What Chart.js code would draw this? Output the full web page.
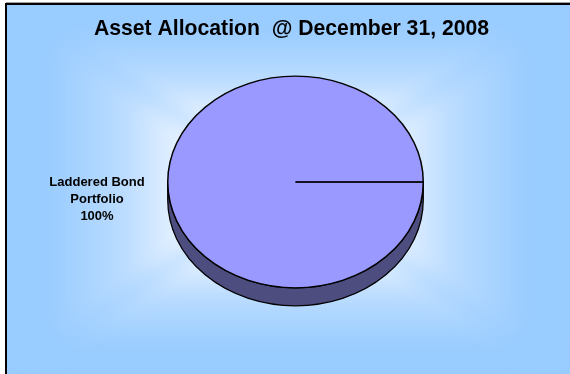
<!DOCTYPE html>
<html>
<head>
<meta charset="utf-8">
<title>Asset Allocation</title>
<script src="https://cdn.jsdelivr.net/npm/chart.js@4"></script>
<style>
  html, body { margin: 0; padding: 0; background: #fff; }
  #wrap { position: relative; width: 570px; height: 374px; }
</style>
</head>
<body>
<div id="wrap"><canvas id="myChart"></canvas></div>
<script>
let chartTitle = "Asset Allocation  @ December 31, 2008";
let categories = ["Laddered Bond Portfolio"];
let labelLines = ["Laddered Bond", "Portfolio", "100%"];
let allocation = [100];

const squash = 0.828;   // the disc is tilted, so it is drawn flattened
const depth = 18;       // thickness of the disc in px

// rectangular "from centre" fill behind everything, one triangle per side
let backdrop = {
  id: "backdrop",
  beforeDraw(chart) {
    let ctx = chart.ctx;
    let l = 6, t = 4, r = chart.width, b = chart.height;
    let cx = 288, cy = 187;
    let sides = [
      [l, t, l, b, l, cy, cx, cy],
      [r, t, r, b, r, cy, cx, cy],
      [l, t, r, t, cx, t, cx, cy],
      [l, b, r, b, cx, b, cx, cy]
    ];
    ctx.save();
    ctx.fillStyle = "#fff";
    ctx.fillRect(0, 0, chart.width, chart.height);
    ctx.fillStyle = "#99ccff";
    ctx.fillRect(l, t, r - l, b - t);
    ctx.beginPath();
    ctx.rect(l, t, r - l, b - t);
    ctx.clip();
    ctx.filter = "blur(10px)";   // takes the hard crease out of the diagonals
    sides.forEach(function (s) {
      let g = ctx.createLinearGradient(s[4], s[5], s[6], s[7]);
      g.addColorStop(0, "#99ccff");
      g.addColorStop(0.15, "#99ccff");
      g.addColorStop(0.42, "#bbdcff");
      g.addColorStop(0.6, "#e3f0ff");
      g.addColorStop(1, "#ffffff");
      ctx.beginPath();
      ctx.moveTo(s[0], s[1]);
      ctx.lineTo(s[2], s[3]);
      ctx.lineTo(cx, cy);
      ctx.closePath();
      ctx.fillStyle = g;
      ctx.fill();
    });
    ctx.restore();

    // frame, only left and top show
    ctx.save();
    ctx.strokeStyle = "#000";
    ctx.lineWidth = 2;
    ctx.beginPath();
    ctx.moveTo(l, b);
    ctx.lineTo(l, t);
    ctx.lineTo(r, t);
    ctx.stroke();
    ctx.strokeStyle = "#a0a0a0";
    ctx.lineWidth = 1;
    ctx.beginPath();
    ctx.moveTo(l, t - 1.5);
    ctx.lineTo(r, t - 1.5);
    ctx.stroke();
    ctx.restore();
  }
};

// flattens the pie and adds the dark side wall under it
let tilt = {
  id: "tilt",
  beforeDatasetsDraw(chart) {
    let ctx = chart.ctx;
    let arc = chart.getDatasetMeta(0).data[0];
    ctx.save();
    ctx.beginPath();
    ctx.ellipse(arc.x, arc.y + depth, arc.outerRadius, arc.outerRadius * squash, 0, 0, Math.PI);
    ctx.lineTo(arc.x - arc.outerRadius, arc.y);
    ctx.ellipse(arc.x, arc.y, arc.outerRadius, arc.outerRadius * squash, 0, Math.PI, 0, true);
    ctx.closePath();
    ctx.fillStyle = "#4d4d80";
    ctx.fill();
    ctx.strokeStyle = "#000";
    ctx.lineWidth = 1.3;
    ctx.stroke();
    ctx.restore();

    ctx.save();
    ctx.translate(arc.x, arc.y);
    ctx.scale(1, squash);
    ctx.translate(-arc.x, -arc.y);
  },
  afterDatasetsDraw(chart) {
    let ctx = chart.ctx;
    let arc = chart.getDatasetMeta(0).data[0];
    ctx.restore();
    // slice edge from the centre out to the rim
    ctx.save();
    ctx.strokeStyle = "#000";
    ctx.lineWidth = 1.6;
    ctx.beginPath();
    ctx.moveTo(arc.x, arc.y);
    ctx.lineTo(arc.x + arc.outerRadius * Math.cos(arc.startAngle), arc.y + arc.outerRadius * squash * Math.sin(arc.startAngle));
    ctx.stroke();
    ctx.restore();
  }
};

let captions = {
  id: "captions",
  afterDraw(chart) {
    let ctx = chart.ctx;
    ctx.save();
    ctx.fillStyle = "#000";
    ctx.textAlign = "center";
    ctx.textBaseline = "middle";
    ctx.font = "bold 21.2px 'Liberation Sans', Arial, sans-serif";
    ctx.fillText(chartTitle, 291.5, 29);
    ctx.font = "bold 13px 'Liberation Sans', Arial, sans-serif";
    labelLines.forEach(function (line, i) {
      ctx.fillText(line, 97, 182 + i * 17);
    });
    ctx.restore();
  }
};

new Chart("myChart", {
  type: "pie",
  data: {
    labels: categories,
    datasets: [{
      data: allocation,
      backgroundColor: "#9999ff",
      borderColor: "#000",
      borderWidth: 1.5
    }]
  },
  options: {
    responsive: true,
    maintainAspectRatio: false,
    animation: false,
    rotation: 90,
    layout: { padding: { left: 167, right: 146, top: 53.5, bottom: 63.5 } },
    plugins: {
      legend: { display: false },
      title: { display: false },
      tooltip: { enabled: false }
    }
  },
  plugins: [backdrop, tilt, captions]
});
</script>
</body>
</html>
